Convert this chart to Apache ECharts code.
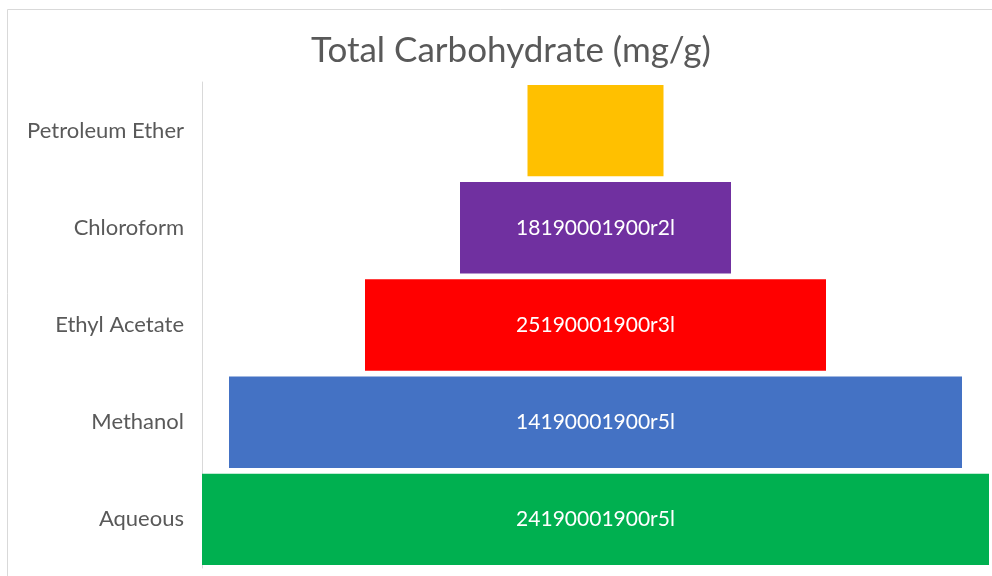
<!DOCTYPE html>
<html>
<head>
<meta charset="utf-8">
<script src="https://cdn.jsdelivr.net/npm/echarts@6/dist/echarts.min.js"></script>
<style>
  html, body { margin: 0; padding: 0; background: #ffffff; }
  #chart { width: 992px; height: 576px; }
</style>
</head>
<body>
<div id="chart"></div>
<script>
// Solvent fractions, listed bottom to top
const categories = ['Aqueous', 'Methanol', 'Ethyl Acetate', 'Chloroform', 'Petroleum Ether'];
// Total carbohydrate per fraction (mg/g)
const values = [78.7, 73.3, 46.1, 27.1, 13.6];
// Text printed inside each bar
const barLabels = ['24190001900r5l', '14190001900r5l', '25190001900r3l', '18190001900r2l', ''];
const barColors = ['#00B050', '#4472C4', '#FF0000', '#7030A0', '#FFC000'];

const maxValue = Math.max(...values);
// Invisible spacer keeps each bar centred on the widest one
const spacer = values.map(v => (maxValue - v) / 2);

const FONT = 'Lato';

const chart = echarts.init(document.getElementById('chart'));
chart.setOption({
  animation: false,
  backgroundColor: '#ffffff',
  title: {
    text: 'Total Carbohydrate (mg/g)',
    left: 306,
    top: 28,
    textStyle: {
      fontFamily: FONT,
      fontSize: 35,
      fontWeight: 'normal',
      color: '#595959'
    }
  },
  graphic: [{
    type: 'rect',
    shape: { x: 7.5, y: 9.5, width: 1000, height: 600 },
    style: { fill: 'none', stroke: '#d9d9d9', lineWidth: 1 },
    silent: true,
    z: -1
  }],
  grid: { left: 202, right: 3, top: 82, bottom: 8, containLabel: false },
  xAxis: {
    type: 'value',
    min: 0,
    max: maxValue,
    show: false
  },
  yAxis: {
    type: 'category',
    data: categories,
    axisLine: { show: true, lineStyle: { color: '#d9d9d9', width: 1 } },
    axisTick: { show: false },
    axisLabel: {
      color: '#595959',
      fontFamily: FONT,
      fontSize: 22,
      margin: 18
    }
  },
  series: [
    {
      type: 'bar',
      stack: 'pyramid',
      data: spacer,
      itemStyle: { color: 'rgba(0,0,0,0)' },
      barCategoryGap: '6%',
      silent: true
    },
    {
      type: 'bar',
      stack: 'pyramid',
      data: values.map((v, i) => ({ value: v, itemStyle: { color: barColors[i] } })),
      barCategoryGap: '6%',
      label: {
        show: true,
        position: 'inside',
        color: '#ffffff',
        fontFamily: FONT,
        fontSize: 21,
        formatter: p => barLabels[p.dataIndex]
      }
    }
  ]
});
</script>
</body>
</html>
